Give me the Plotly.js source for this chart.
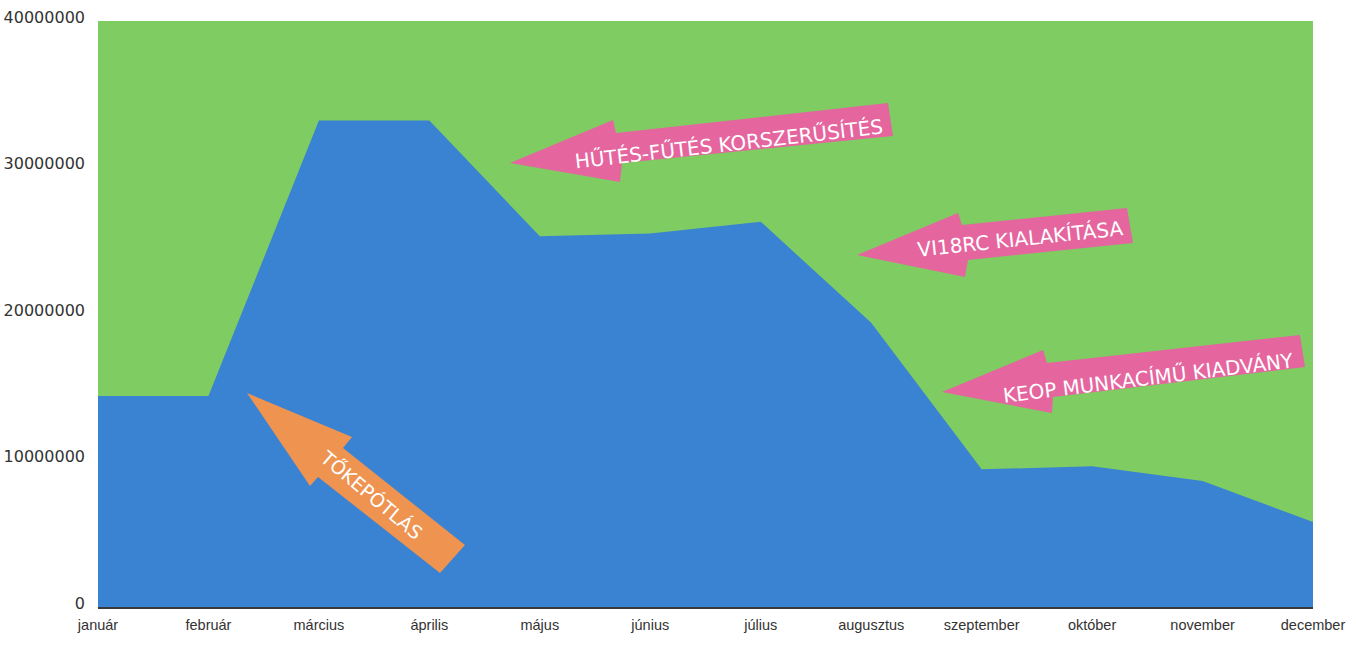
<!DOCTYPE html>
<html>
<head>
<meta charset="utf-8">
<script src="https://cdn.plot.ly/plotly-3.0.1.min.js"></script>
<style>html,body{margin:0;padding:0;background:#fff;}#chart{width:1356px;height:652px;}</style>
</head>
<body>
<div id="chart"></div>
<script>
// ---- data ----
const months = ["január","február","március","április","május","június","július","augusztus","szeptember","október","november","december"];
const blueValues = [14400000,14400000,33200000,33200000,25300000,25500000,26300000,19400000,9400000,9600000,8600000,5800000];
const greenValues = [40000000,40000000,40000000,40000000,40000000,40000000,40000000,40000000,40000000,40000000,40000000,40000000];
const yTicks = [0,10000000,20000000,30000000,40000000];
const yTickText = ["0","10000000","20000000","30000000","40000000"];
const labelTexts = ["HŰTÉS-FŰTÉS KORSZERŰSÍTÉS","VI18RC KIALAKÍTÁSA","KEOP MUNKACÍMŰ KIADVÁNY","TŐKEPÓTLÁS"];

// ---- plot box (pixels) for decorations ----
const W = 1356, H = 652;
const L = 98, R = 1313, T = 21, B = 607;
const px = x => (x - L) / (R - L);
const py = y => (B - y) / (B - T);
function poly(pts) {
  return pts.map((p, i) => (i ? 'L' : 'M') + px(p[0]).toFixed(5) + ',' + py(p[1]).toFixed(5)).join(' ') + ' Z';
}

const pink = '#e5659f';
const orange = '#ee9350';

const arrows = [
  {color: pink, pts: [[510,163],[613,120],[616,133],[888,103],[893,136],[622,163],[620,182]]},
  {color: pink, pts: [[857,255],[958,213],[962,225],[1127,208],[1133,243],[968,260],[965,277]]},
  {color: pink, pts: [[942,392],[1043,350],[1047,363],[1300,335],[1305,367],[1053,397],[1052,413]]},
  {color: orange, pts: [[247,393],[352,437],[343,448],[465,545],[440,573],[318,477],[310,486]]}
];
const labelPos = [
  {x: 729, y: 144, a: -6.5, s: 20},
  {x: 1020, y: 239, a: -6, s: 20},
  {x: 1148, y: 378, a: -7, s: 20},
  {x: 372, y: 494, a: 40, s: 19}
];

const shapes = arrows.map(a => ({
  type: 'path', xref: 'paper', yref: 'paper', path: poly(a.pts),
  fillcolor: a.color, line: {width: 0}, layer: 'above'
}));

const annotations = labelTexts.map((t, i) => ({
  text: t, xref: 'paper', yref: 'paper', x: px(labelPos[i].x), y: py(labelPos[i].y),
  showarrow: false, textangle: labelPos[i].a, xanchor: 'center', yanchor: 'middle',
  font: {family: 'DejaVu Sans, sans-serif', size: labelPos[i].s, color: '#ffffff'}
}));

const traces = [
  {x: months, y: greenValues, type: 'scatter', mode: 'lines', fill: 'tozeroy',
   fillcolor: '#7fcc62', line: {color: '#7fcc62', width: 0}, hoverinfo: 'skip', showlegend: false},
  {x: months, y: blueValues, type: 'scatter', mode: 'lines', fill: 'tozeroy',
   fillcolor: '#3a82d2', line: {color: '#3a82d2', width: 0}, hoverinfo: 'skip', showlegend: false}
];

const layout = {
  width: W, height: H,
  margin: {l: L, r: W - R, t: T, b: H - B},
  paper_bgcolor: '#ffffff', plot_bgcolor: '#ffffff',
  showlegend: false,
  font: {family: 'Liberation Sans, Arial, sans-serif', size: 13, color: '#333333'},
  xaxis: {
    type: 'category', range: [0, 11], showgrid: false, zeroline: false,
    showline: true, linecolor: '#3a3a3a', linewidth: 2, ticks: '',
    ticklabelstandoff: 4,
    tickfont: {family: 'Liberation Sans, Arial, sans-serif', size: 14.5, color: '#333333'}, fixedrange: true
  },
  yaxis: {
    range: [0, 40000000], tickvals: yTicks, ticktext: yTickText,
    showgrid: false, zeroline: false, showline: false, ticks: '',
    ticklabelstandoff: 12, ticklabelshift: -4,
    tickfont: {family: 'DejaVu Sans, sans-serif', size: 16, color: '#333333'}, fixedrange: true
  },
  shapes: shapes,
  annotations: annotations
};

Plotly.newPlot('chart', traces, layout, {displayModeBar: false, staticPlot: true});
</script>
</body>
</html>
